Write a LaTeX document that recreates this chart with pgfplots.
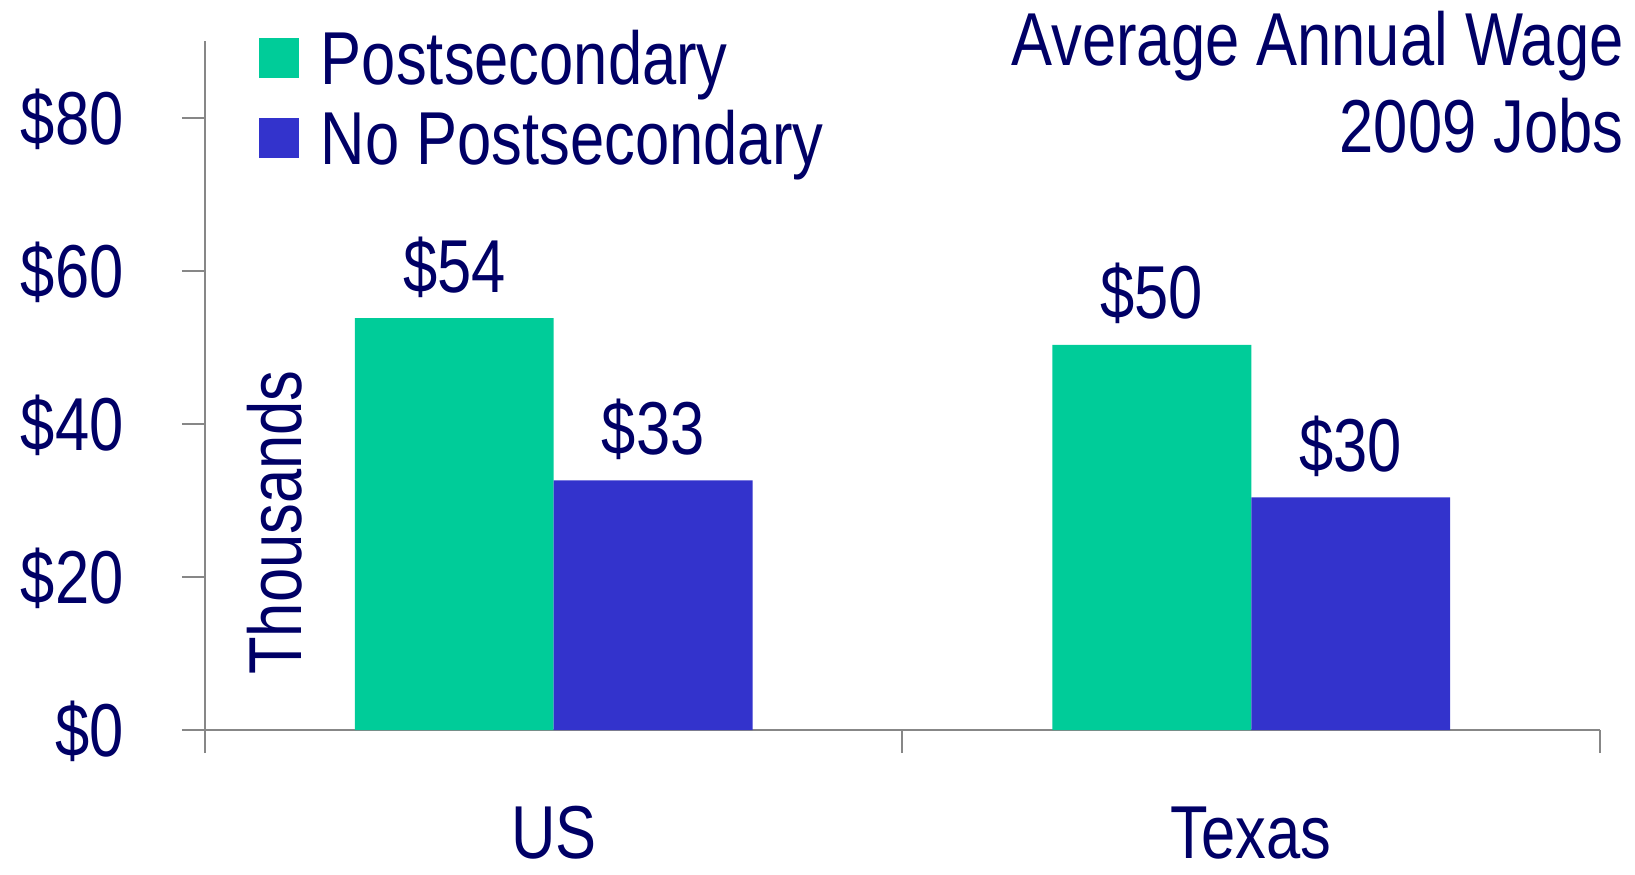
\documentclass[border=0pt]{standalone}
\usepackage{pgfplots}
\pgfplotsset{compat=1.18}
\usepackage{fontspec}
\setmainfont{Liberation Sans}[FakeStretch=0.82]
\definecolor{gr}{HTML}{00CC99}
\definecolor{bl}{HTML}{3333CC}
\definecolor{navy}{HTML}{000066}
\definecolor{axg}{HTML}{878787}
\newcommand\bigf{\fontsize{37.5}{44}\selectfont}
\pgfplotsset{sqleg/.style={legend image code/.code={\fill[##1] (0pt,3.4pt) rectangle (20pt,23.4pt);}}}
\begin{document}
\begin{tikzpicture}
\useasboundingbox (-102.5pt,-72pt) rectangle (715pt,365pt);
\begin{axis}[
  at={(0pt,0pt)}, anchor=south west,
  scale only axis, width=697.5pt, height=344.45pt,
  xmin=-0.5, xmax=1.5, ymin=0, ymax=90,
  axis x line*=bottom, axis y line*=left,
  axis line style={draw=axg, line width=1pt},
  tick style={draw=axg, line width=1pt},
  tick align=outside, major tick length=11.5pt,
  clip=false,
  ybar,
  xtick={-0.5,0.5,1.5}, xticklabels={},
  extra x ticks={0,1}, extra x tick labels={US,Texas},
  extra x tick style={major tick length=0pt, xticklabel style={anchor=base, inner sep=0pt, yshift=-64pt}},
  ytick={0,20,40,60,80},
  yticklabels={\$0,\$20,\$40,\$60,\$80},
  yticklabel style={anchor=base east, inner sep=0pt, xshift=-29pt, yshift=-13.4pt},
  tick label style={font=\bigf, text=navy},
  nodes near coords,
  point meta=explicit symbolic,
  every node near coord/.append style={anchor=base, inner sep=0pt, yshift=13pt, font=\bigf, text=navy},
  legend style={at={(0.0387,1.0176)}, anchor=north west, draw=none, fill=none,
    inner sep=0pt, outer sep=0pt, font=\bigf, text=navy, column sep=11pt, row sep=4pt,
    nodes={inner sep=0pt, anchor=base west, text height=28pt, text depth=8pt}},
]
\addplot[fill=gr, draw=none, bar width=0.285, bar shift=-0.1425, sqleg]
  coordinates {(0,53.8) [\$54] (1,50.3) [\$50]};
\addlegendentry{Postsecondary}
\addplot[fill=bl, draw=none, bar width=0.285, bar shift=0.1425, sqleg]
  coordinates {(0,32.6) [\$33] (1,30.4) [\$30]};
\addlegendentry{No Postsecondary}
\node[rotate=90, anchor=base, inner sep=0pt, font=\bigf, text=navy] at (axis cs:-0.3614,27.1) {Thousands};
\node[anchor=base east, inner sep=0pt, font=\bigf, text=navy] at (rel axis cs:1.0172,0.9653) {Average Annual Wage};
\node[anchor=base east, inner sep=0pt, font=\bigf, text=navy] at (rel axis cs:1.0172,0.8376) {2009 Jobs};
\end{axis}
\end{tikzpicture}
\end{document}
